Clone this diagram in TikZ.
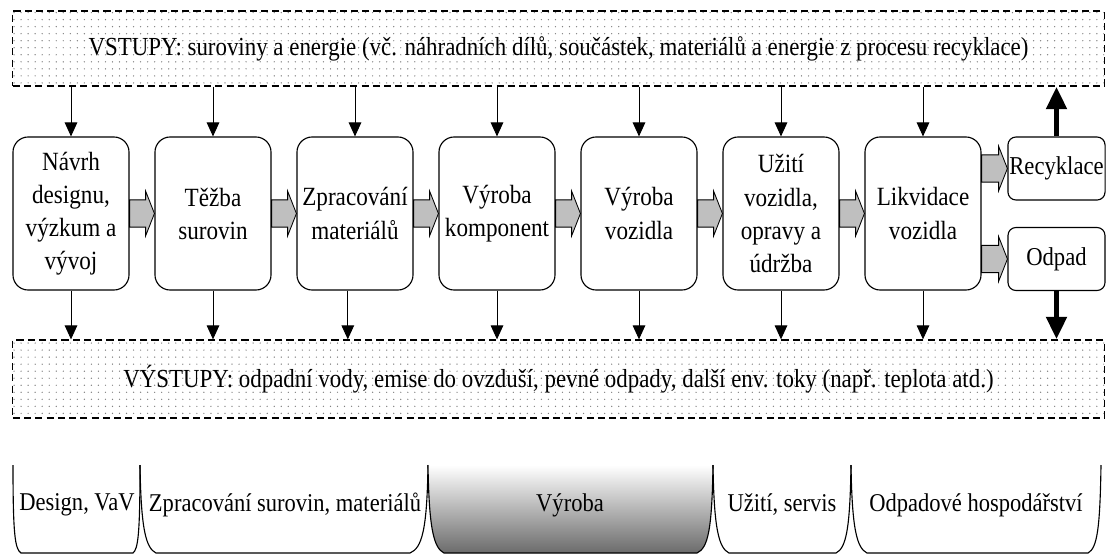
\documentclass[tikz,border=0pt]{standalone}
\usepackage{fontspec}
\setmainfont[FakeStretch=0.88]{Liberation Serif}
\usepackage{tikz}
\usetikzlibrary{arrows.meta,positioning,calc,patterns.meta}

% gray block arrow from one box to the next
\newcommand{\flowarrow}[2]{%
  \filldraw[flow] ($(#1.east |- #2.west)+(0,0.34cm)$)
    -- ($(#2.west)+(-0.22cm,0.34cm)$) -- ($(#2.west)+(-0.22cm,0.56cm)$)
    -- (#2.west)
    -- ($(#2.west)+(-0.22cm,-0.56cm)$) -- ($(#2.west)+(-0.22cm,-0.34cm)$)
    -- ($(#1.east |- #2.west)+(0,-0.34cm)$) -- cycle;}

\begin{document}
\begin{tikzpicture}[x=0.025cm, y=-0.025cm,
  stage/.style={draw, line width=0.8pt, rounded corners=0.38cm, fill=white,
                minimum width=2.9cm, minimum height=3.825cm, inner sep=1pt,
                align=center, font=\fontsize{18.7}{23.5}\selectfont},
  endbox/.style={draw, line width=0.8pt, rounded corners=0.2cm, fill=white,
                 minimum width=2.425cm, minimum height=1.575cm, inner sep=1pt,
                 font=\fontsize{18.3}{23.5}\selectfont},
  band/.style={draw, line width=0.9pt, dash pattern=on 5pt off 3pt,
               pattern={Dots[radius=0.5pt, distance=5pt]}, pattern color=black!50,
               minimum width=27.275cm, font=\fontsize{18.5}{22}\selectfont},
  flow/.style={draw, line width=0.6pt, fill=black!25},
  feed/.style={-{Triangle[width=9pt, length=10pt]}, line width=0.7pt},
  heavy/.style={-{Triangle[width=14pt, length=16pt]}, line width=4pt},
  cup/.style={draw, line width=0.8pt},
  phase/.style={font=\fontsize{18.2}{22}\selectfont},
]
\useasboundingbox (0,0) rectangle (1106,554);

% Inputs and outputs
\node[band, minimum height=1.875cm] (in) at (558.5,48.5)
  {VSTUPY: suroviny a energie (vč. náhradních dílů, součástek, materiálů a energie z procesu recyklace)};
\node[band, minimum height=1.95cm] (out) at (558.5,379)
  {VÝSTUPY: odpadní vody, emise do ovzduší, pevné odpady, další env. toky (např. teplota atd.)};

% Life cycle stages
\node[stage] (design) at (71,213.5) {Návrh\\designu,\\výzkum a\\vývoj};
\node[stage] (tezba) at (213,213.5) {Těžba\\surovin};
\node[stage] (zprac) at (355,213.5) {Zpracování\\materiálů};
\node[stage] (komp) at (497,213.5) {Výroba\\komponent};
\node[stage] (vozidlo) at (639,213.5) {Výroba\\vozidla};
\node[stage] (uziti) at (781,213.5) {Užití\\vozidla,\\opravy a\\údržba};
\node[stage] (likv) at (923,213.5) {Likvidace\\vozidla};
\node[endbox] (recykl) at (1056.5,168.5) {Recyklace};
\node[endbox] (odpad) at (1056.5,259) {Odpad};

\flowarrow{design}{tezba}
\flowarrow{tezba}{zprac}
\flowarrow{zprac}{komp}
\flowarrow{komp}{vozidlo}
\flowarrow{vozidlo}{uziti}
\flowarrow{uziti}{likv}
\flowarrow{likv}{recykl}
\flowarrow{likv}{odpad}

% Flows in and out
\foreach \s in {design,tezba,zprac,komp,vozidlo,uziti,likv}
  \draw[feed] (\s.north |- in.south) -- (\s.north);
\foreach \s in {design,tezba,komp,vozidlo,uziti,likv}
  \draw[feed] (\s.south) -- (\s.south |- out.north);
\draw[feed] ([xshift=-0.18cm]zprac.south) -- ([xshift=-0.18cm]zprac.south |- out.north);
\draw[heavy] (recykl.north) -- (recykl.north |- in.south);
\draw[heavy] (odpad.south) -- (odpad.south |- out.north);

% Phases
\path[cup] (13,465) .. controls (13,535) and (15,549) .. (21,553) -- (133,553)
  .. controls (138,549) and (140,535) .. (140,465);
\path[cup] (140,465) .. controls (141,530) and (146,548) .. (156,553) -- (410,553)
  .. controls (422,548) and (427,530) .. (428,465);
\shadedraw[cup, top color=white, bottom color=black!58] (428,465)
  .. controls (429,530) and (434,548) .. (444,553) -- (697,553)
  .. controls (708,548) and (712,530) .. (713,465);
\path[cup] (713,465) .. controls (714,530) and (719,548) .. (729,553) -- (836,553)
  .. controls (846,548) and (850,530) .. (851,465);
\path[cup] (851,465) .. controls (852,530) and (857,548) .. (867,553) -- (1088,553)
  .. controls (1097,548) and (1100,530) .. (1101,465);
\node[phase] (vav) at (77,505) {Design, VaV};
\node[phase] (suroviny) at (285,505) {Zpracování surovin, materiálů};
\node[phase] (vyroba) at (570,505) {Výroba};
\node[phase] (servis) at (782,505) {Užití, servis};
\node[phase] (odpady) at (976,505) {Odpadové hospodářství};
\end{tikzpicture}
\end{document}
